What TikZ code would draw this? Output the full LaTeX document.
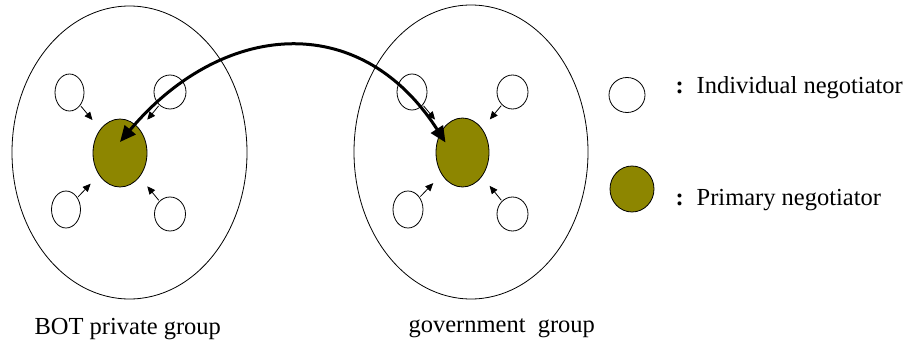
\documentclass[tikz,border=0pt]{standalone}
\usepackage{fontspec}
\setmainfont{Liberation Serif}
\usepackage{xcolor}
\usetikzlibrary{shapes.geometric}
\usetikzlibrary{arrows.meta}

\begin{document}
\begin{tikzpicture}[x=1pt, y=-1pt,
        every node/.style={font=\fontsize{24.5}{29}\selectfont},
        group/.style={draw, ellipse, inner sep=0pt, line width=0.8pt},
        agent/.style={draw, ellipse, fill=white, inner sep=0pt, line width=0.8pt},
        primary/.style={draw, ellipse, fill=olive, inner sep=0pt, line width=0.8pt},
        talk/.style={-{Triangle[length=8pt, width=7pt]}, line width=0.8pt, shorten <=1pt, shorten >=12pt},
        deal/.style={{Triangle[length=16pt, width=14pt]}-{Triangle[length=16pt, width=14pt]}, line width=3pt}]
            \useasboundingbox (0, 0) rectangle (904, 345);

            % BOT private group
            \node (B) at (129.5, 152.5) [group, minimum width=235, minimum height=293] {};
            \node (BP) at (120, 153) [primary, minimum width=54, minimum height=68] {};
            \node (B1) at (69.5, 92.5) [agent, minimum width=29, minimum height=37] {};
            \node (B2) at (170, 92) [agent, minimum width=32, minimum height=34] {};
            \node (B3) at (66, 209.5) [agent, minimum width=29, minimum height=37] {};
            \node (B4) at (170, 214) [agent, minimum width=31, minimum height=34] {};

            % government group
            \node (G) at (471, 152) [group, minimum width=234, minimum height=294] {};
            \node (GP) at (462.5, 152.5) [primary, minimum width=53, minimum height=69] {};
            \node (G1) at (412, 92) [agent, minimum width=30, minimum height=36] {};
            \node (G2) at (512.5, 92) [agent, minimum width=31, minimum height=34] {};
            \node (G3) at (408, 209.5) [agent, minimum width=30, minimum height=37] {};
            \node (G4) at (512.5, 214) [agent, minimum width=31, minimum height=34] {};

            \foreach \g in {B, G} {
                \foreach \i in {1, 2, 3, 4}
                    \draw[talk] (\g\i) to (\g P);
            }

            \node (Bname) at (31, 334) [anchor=base west] {BOT private group};
            \node (Gname) at (405, 332) [anchor=base west] {government\ \ group};

            % legend
            \node (ind) at (627, 95) [agent, minimum width=36, minimum height=35] {};
            \node (prim) at (632, 189) [primary, minimum width=44, minimum height=46] {};
            \node (indtxt) at (672, 93) [anchor=base west] {\textbf{:}\hspace{13pt}Individual negotiator};
            \node (primtxt) at (672, 205) [anchor=base west] {\textbf{:}\hspace{13pt}Primary negotiator};

            % negotiation between the two primary negotiators
            \draw[deal] ([yshift=11pt]BP.center) .. controls (220, 22.6) and (359, 7.6) .. ([xshift=-17pt, yshift=10pt]GP.center);
        \end{tikzpicture}
\end{document}
